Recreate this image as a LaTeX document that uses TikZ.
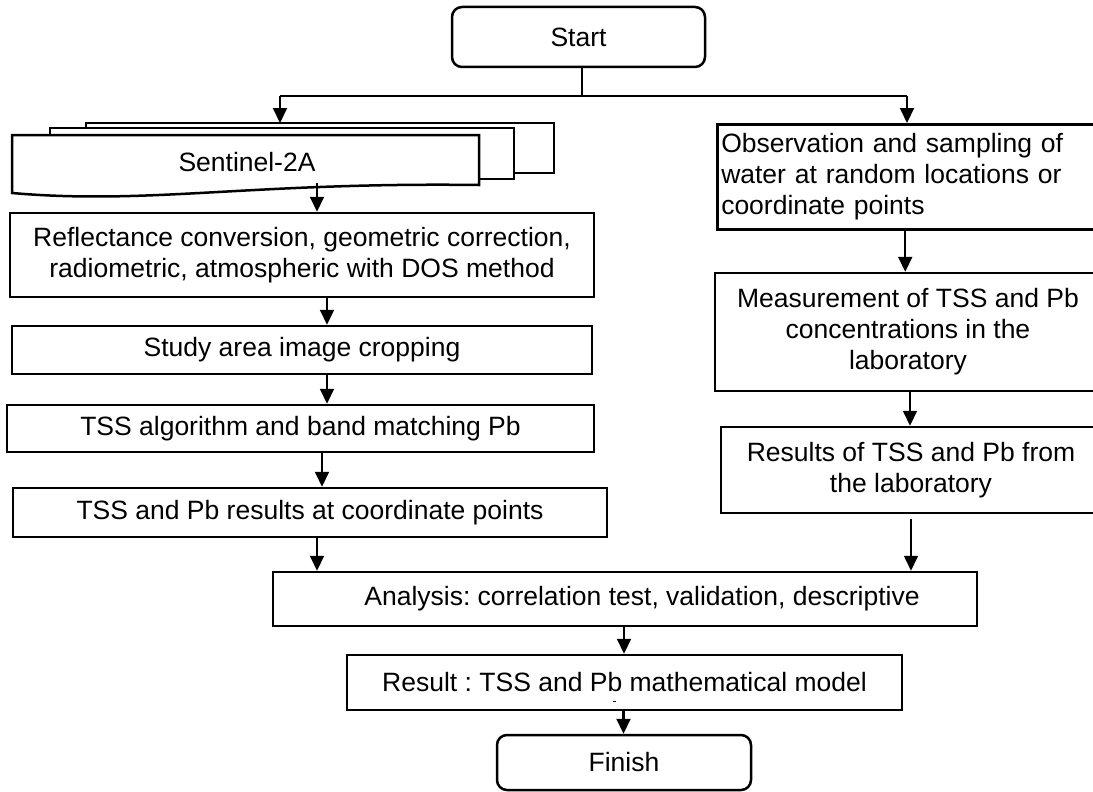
\documentclass[tikz,border=0pt]{standalone}
\usepackage{fontspec}
\setmainfont{Liberation Sans}
\usetikzlibrary{arrows.meta}
\frenchspacing
\begin{document}
\begin{tikzpicture}[x=1pt,y=-1pt,
  txt/.style={font=\fontsize{26.5}{31}\selectfont\frenchspacing},
  box/.style={txt, draw, line width=2.5pt, fill=white, inner sep=0pt, align=center},
  term/.style={box, rounded corners=10pt},
  arr/.style={line width=2.1pt, -{Triangle[width=14pt,length=15pt]}},
  ln/.style={line width=2.1pt},
  sheet/.style={draw, line width=2.5pt, fill=white}]
\useasboundingbox (0,0) rectangle (1093,792);
\fill[white] (0,0) rectangle (1093,792);

% terminals
\node[term, minimum width=253pt, minimum height=60pt] (start) at (578.5,37) {Start};
\node[term, minimum width=254pt, minimum height=55pt] (finish) at (624,762.5) {Finish};

% Sentinel-2A multi-document
\draw[sheet] (86,123) rectangle (554,173);
\draw[sheet] (50,128) rectangle (514,179);
\draw[sheet] (12,135) -- (479,135) -- (479,185) .. controls (250,182) and (150,205) .. (12,193) -- cycle;
\node[txt] (s2a) at (247,162) {Sentinel-2A};
\coordinate (s2ain) at (280,123);
\coordinate (s2aout) at (317,183);

% left column
\node[box, minimum width=584pt, minimum height=84pt] (refl) at (302,255)
  {Reflectance conversion, geometric correction,\\radiometric, atmospheric with DOS method};
\node[box, minimum width=580pt, minimum height=48pt] (study) at (302,350) {Study area image cropping};
\node[box, minimum width=587pt, minimum height=47pt] (tssalg) at (300.5,428.5) {TSS algorithm and band matching Pb};
\node[box, minimum width=594pt, minimum height=49pt] (tssres) at (310,512.5) {TSS and Pb results at coordinate points};

% right column
\node[box, align=left, text width=380pt, inner xsep=4pt, minimum height=105pt, anchor=north west] (obs) at (716,123)
  {Observation and sampling of\\water at random locations or\\coordinate points};
\node[box, minimum width=386pt, minimum height=118pt] (meas) at (908,332)
  {Measurement of TSS and Pb\\concentrations in the\\laboratory};
\node[box, minimum width=380pt, minimum height=86pt] (labres) at (911,470)
  {Results of TSS and Pb from\\the laboratory};

% bottom
\node[box, minimum width=704pt, minimum height=54pt] (anal) at (625,599)
  {\hspace*{34pt}Analysis: correlation test, validation, descriptive};
\node[box, minimum width=555pt, minimum height=55pt] (result) at (624.5,682.5)
  {Result : TSS and Pb mathematical model};
\draw[line width=1pt] (612.5,701) -- (615.5,701);

% connectors
\coordinate (split) at (582,96);
\coordinate (lsplit) at (280,96);
\coordinate (rsplit) at (907,96);
\draw[ln] ([xshift=3.5pt]start.south) -- (split);
\draw[ln] (lsplit) -- (rsplit);
\draw[arr] (lsplit) -- (s2ain);
\draw[arr] (rsplit) -- (rsplit |- obs.north);
\draw[arr] (s2aout) -- (s2aout |- refl.north);
\draw[arr] ([xshift=25pt]refl.south) -- ([xshift=25pt]refl.south |- study.north);
\draw[arr] ([xshift=25pt]study.south) -- ([xshift=25pt]study.south |- tssalg.north);
\draw[arr] ([xshift=21.5pt]tssalg.south) -- ([xshift=21.5pt]tssalg.south |- tssres.north);
\draw[arr] ([xshift=7pt]tssres.south) -- ([xshift=7pt]tssres.south |- anal.north);
\draw[arr] ([xshift=-6pt]obs.south) -- ([xshift=-6pt]obs.south |- meas.north);
\draw[arr] ([xshift=2pt]meas.south) -- ([xshift=2pt]meas.south |- labres.north);
\draw[arr, line width=1.6pt] ([yshift=-5pt]labres.south) -- (labres.south |- anal.north);
\draw[arr] ([xshift=-1pt]anal.south) -- ([xshift=-1pt]anal.south |- result.north);
\draw[arr] ([xshift=-1pt]result.south) -- ([xshift=-1pt]result.south |- finish.north);
\end{tikzpicture}
\end{document}
